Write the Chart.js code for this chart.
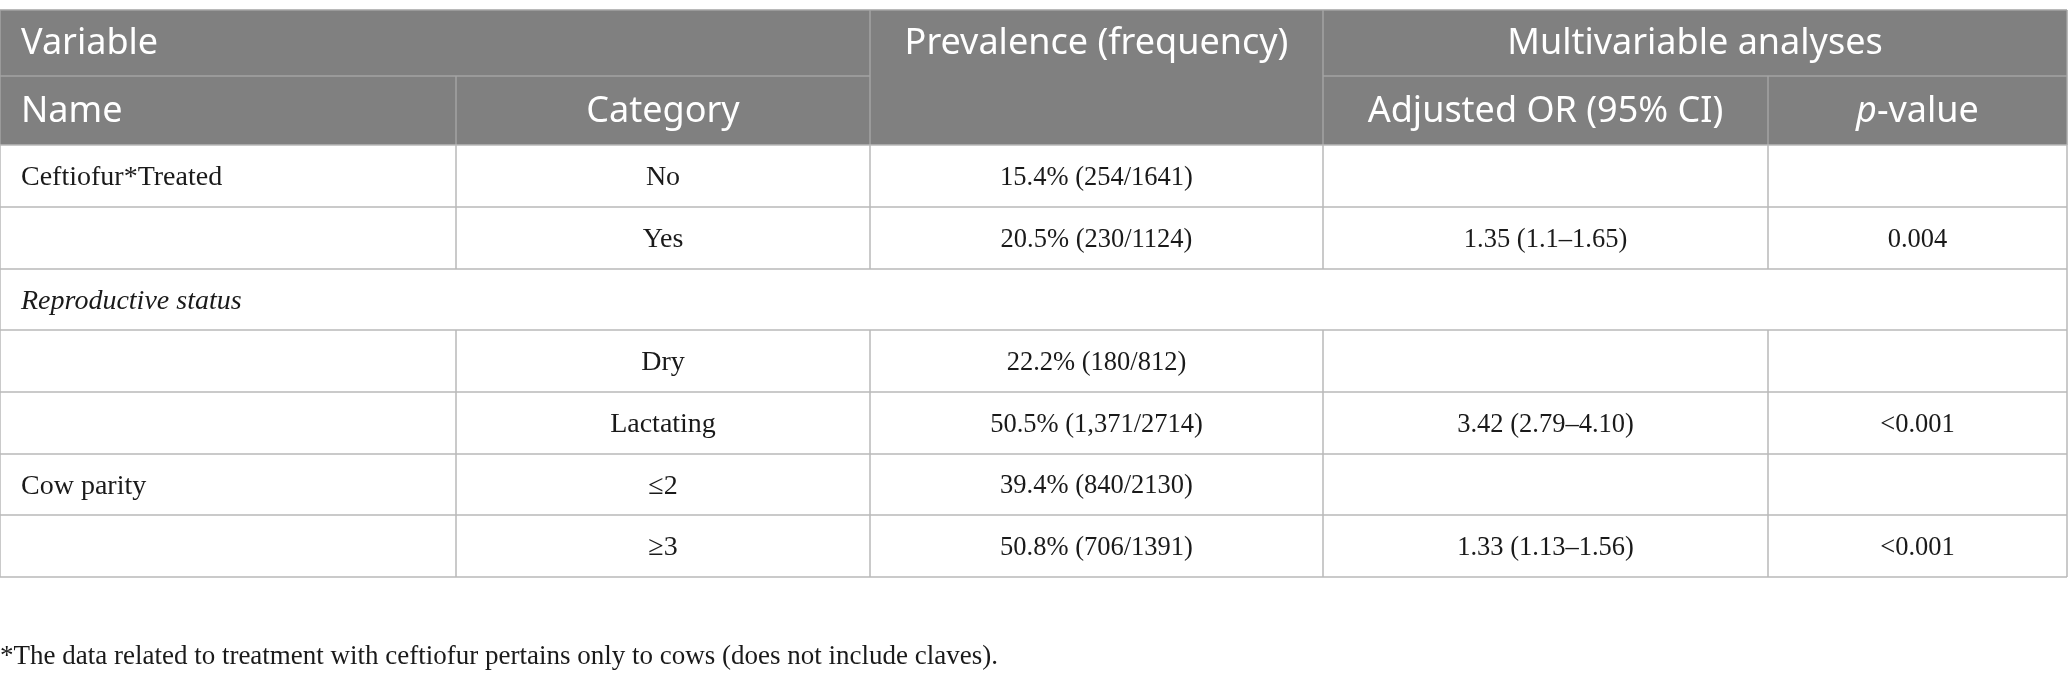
<!DOCTYPE html>
<html>
<head>
<meta charset="utf-8">
<script src="https://cdn.jsdelivr.net/npm/chart.js@4.4.0/dist/chart.umd.min.js"></script>
<style>
  html, body { margin: 0; padding: 0; background: #fff; }
  #wrap { width: 2068px; height: 686px; position: relative; }
</style>
</head>
<body>
<div id="wrap"><canvas id="tableChart"></canvas></div>
<script>
// table content, one entry per body row
const names = ['Ceftiofur*Treated', '', 'Reproductive status', '', '', 'Cow parity', ''];
const categories = ['No', 'Yes', '', 'Dry', 'Lactating', '≤2', '≥3'];
const prevalence = ['15.4% (254/1641)', '20.5% (230/1124)', '', '22.2% (180/812)', '50.5% (1,371/2714)', '39.4% (840/2130)', '50.8% (706/1391)'];
const adjustedOR = ['', '1.35 (1.1–1.65)', '', '', '3.42 (2.79–4.10)', '', '1.33 (1.13–1.56)'];
const pValues = ['', '0.004', '', '', '<0.001', '', '<0.001'];
const sectionRows = [2];
const footnote = '*The data related to treatment with ceftiofur pertains only to cows (does not include claves).';

// grid lines, in scale units
const colEdges = [0, 456, 870, 1323, 1768, 2067];
const rowEdges = [145, 207, 269, 330, 392, 454, 515, 577];
const headTop = 10;
const headMid = 76;
const footY = 657;

const HEAD_BG = '#808080';
const HEAD_LINE = '#a3a3a3';
const GRID = '#b9b9b9';
const SANS = '"Noto Sans", "Open Sans", sans-serif';
const SERIF = '"Liberation Serif", "DejaVu Serif", serif';
const HEAD_FONT = '36px ' + SANS;
const BODY_FONT = '28px ' + SERIF;
const NUM_FONT = '26.5px ' + SERIF;

const tablePlugin = {
  id: 'tablePlugin',
  afterDraw(chart) {
    const ctx = chart.ctx;
    const xs = chart.scales.x;
    const ys = chart.scales.y;
    const X = v => xs.getPixelForValue(v);
    const Y = v => ys.getPixelForValue(v);
    const cx = i => (X(colEdges[i]) + X(colEdges[i + 1])) / 2;
    const left = X(colEdges[0]);
    const right = X(colEdges[colEdges.length - 1]);

    ctx.save();

    // header block
    ctx.fillStyle = HEAD_BG;
    ctx.fillRect(left, Y(headTop), right - left, Y(rowEdges[0]) - Y(headTop));

    ctx.strokeStyle = HEAD_LINE;
    ctx.lineWidth = 1.5;
    const line = (x1, y1, x2, y2) => {
      ctx.beginPath();
      ctx.moveTo(X(x1), Y(y1));
      ctx.lineTo(X(x2), Y(y2));
      ctx.stroke();
    };
    line(colEdges[0], headTop, colEdges[5], headTop);
    line(colEdges[0], headMid, colEdges[2], headMid);
    line(colEdges[3], headMid, colEdges[5], headMid);
    line(colEdges[2], headTop, colEdges[2], rowEdges[0]);
    line(colEdges[3], headTop, colEdges[3], rowEdges[0]);
    line(colEdges[1], headMid, colEdges[1], rowEdges[0]);
    line(colEdges[4], headMid, colEdges[4], rowEdges[0]);
    line(colEdges[0], headTop, colEdges[0], rowEdges[0]);
    line(colEdges[5], headTop, colEdges[5], rowEdges[0]);

    // body grid
    ctx.strokeStyle = GRID;
    rowEdges.forEach(r => line(colEdges[0], r, colEdges[5], r));
    for (let r = 0; r < rowEdges.length - 1; r++) {
      const top = rowEdges[r], bot = rowEdges[r + 1];
      line(colEdges[0], top, colEdges[0], bot);
      line(colEdges[5], top, colEdges[5], bot);
      if (sectionRows.includes(r)) continue;
      for (let c = 1; c < colEdges.length - 1; c++) line(colEdges[c], top, colEdges[c], bot);
    }

    // header text
    ctx.fillStyle = '#ffffff';
    ctx.textBaseline = 'middle';
    ctx.font = HEAD_FONT;
    const h1 = (Y(headTop) + Y(headMid)) / 2 + 1;
    const h2 = (Y(headMid) + Y(rowEdges[0])) / 2 + 1;
    ctx.textAlign = 'left';
    ctx.fillText('Variable', left + 21, h1);
    ctx.fillText('Name', left + 21, h2);
    ctx.textAlign = 'center';
    ctx.fillText('Prevalence (frequency)', cx(2), h1);
    ctx.fillText('Multivariable analyses', (X(colEdges[3]) + X(colEdges[5])) / 2, h1);
    ctx.fillText('Category', cx(1), h2);
    ctx.fillText('Adjusted OR (95% CI)', cx(3), h2);
    // p-value with italic p
    ctx.font = 'italic ' + HEAD_FONT;
    const wp = ctx.measureText('p').width;
    ctx.font = HEAD_FONT;
    const wr = ctx.measureText('-value').width;
    const start = cx(4) - (wp + wr) / 2;
    ctx.textAlign = 'left';
    ctx.font = 'italic ' + HEAD_FONT;
    ctx.fillText('p', start, h2);
    ctx.font = HEAD_FONT;
    ctx.fillText('-value', start + wp, h2);

    // body text
    ctx.fillStyle = '#1a1a1a';
    const cols = [names, categories, prevalence, adjustedOR, pValues];
    for (let r = 0; r < names.length; r++) {
      const y = (Y(rowEdges[r]) + Y(rowEdges[r + 1])) / 2 + 2;
      cols.forEach((arr, c) => {
        const txt = arr[r];
        if (!txt) return;
        if (c === 0) {
          ctx.textAlign = 'left';
          ctx.font = (sectionRows.includes(r) ? 'italic ' : '') + BODY_FONT;
          ctx.fillText(txt, left + 21, y);
        } else {
          ctx.textAlign = 'center';
          ctx.font = c === 1 ? BODY_FONT : NUM_FONT;
          ctx.fillText(txt, cx(c), y);
        }
      });
    }

    // footnote
    ctx.textAlign = 'left';
    ctx.font = '27px ' + SERIF;
    ctx.fillText(footnote, left, Y(footY));

    ctx.restore();
  }
};

new Chart(document.getElementById('tableChart'), {
  type: 'scatter',
  data: { datasets: [{ data: [] }] },
  options: {
    responsive: true,
    maintainAspectRatio: false,
    animation: false,
    layout: { padding: 0 },
    plugins: { legend: { display: false }, tooltip: { enabled: false } },
    scales: {
      x: { type: 'linear', min: 0, max: 2068, display: false },
      y: { type: 'linear', min: 0, max: 686, reverse: true, display: false }
    }
  },
  plugins: [tablePlugin]
});
</script>
</body>
</html>
